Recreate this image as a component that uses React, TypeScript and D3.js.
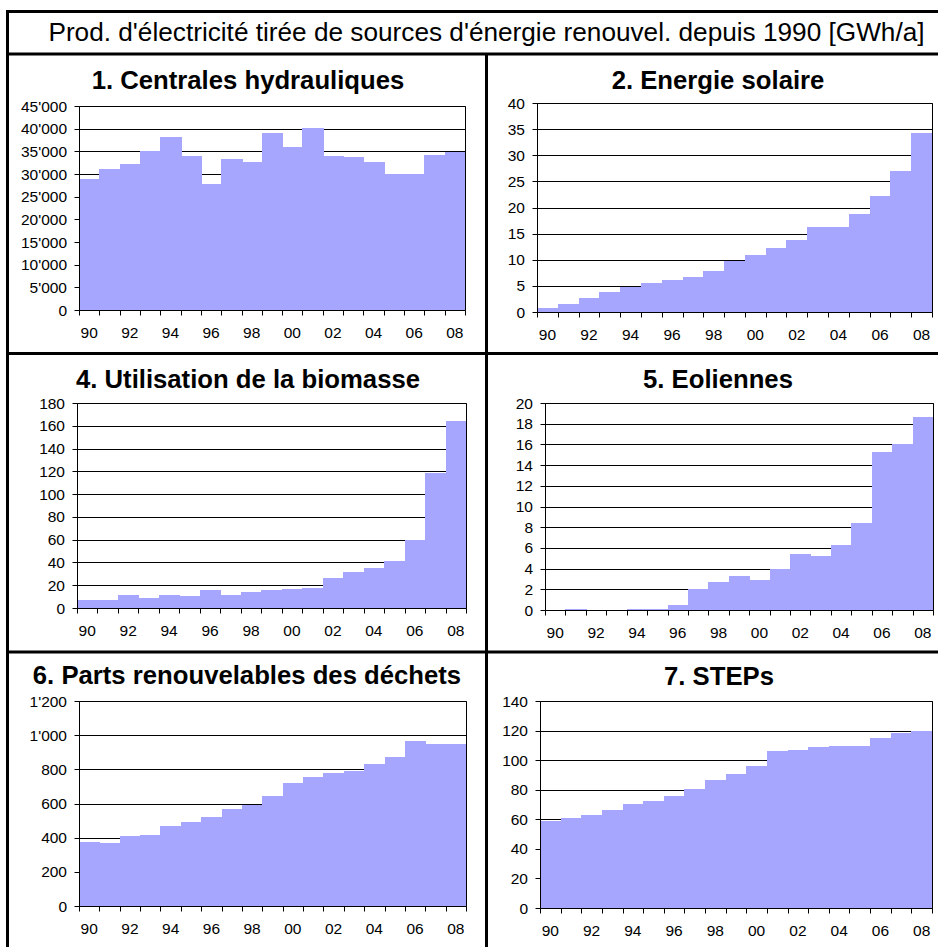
import React from 'react';
import * as d3 from 'd3';

// ---------- data ----------
const years = [1990, 1991, 1992, 1993, 1994, 1995, 1996, 1997, 1998, 1999, 2000, 2001, 2002, 2003, 2004, 2005, 2006, 2007, 2008];
const labeledYears = [1990, 1992, 1994, 1996, 1998, 2000, 2002, 2004, 2006, 2008];

const mainTitle = "Prod. d'électricité tirée de sources d'énergie renouvel. depuis 1990 [GWh/a]";

const hydroTitle = '1. Centrales hydrauliques';
const hydro = [28960, 31200, 32300, 35150, 38270, 34030, 27850, 33200, 32750, 39100, 35900, 40200, 34000, 33700, 32750, 30100, 29950, 34300, 34900];
const hydroTicks = [0, 5000, 10000, 15000, 20000, 25000, 30000, 35000, 40000, 45000];

const solarTitle = '2. Energie solaire';
const solar = [0.83, 1.6, 2.74, 3.9, 4.84, 5.6, 6.18, 6.75, 7.9, 9.68, 10.96, 12.3, 13.8, 16.3, 16.3, 18.8, 22.2, 26.9, 34.3];
const solarTicks = [0, 5, 10, 15, 20, 25, 30, 35, 40];

const biomassTitle = '4. Utilisation de la biomasse';
const biomass = [7.3, 7.4, 11.4, 8.8, 11.4, 10.5, 15.8, 11.4, 14.0, 15.8, 16.7, 17.8, 26.3, 31.6, 35.1, 41.5, 59.6, 118.3, 164.2];
const biomassTicks = [0, 20, 40, 60, 80, 100, 120, 140, 160, 180];

const windTitle = '5. Eoliennes';
const wind = [0, 0.1, 0, 0, 0.1, 0.1, 0.48, 2.0, 2.7, 3.3, 2.9, 3.97, 5.4, 5.2, 6.3, 8.4, 15.3, 16.07, 18.6];
const windTicks = [0, 2, 4, 6, 8, 10, 12, 14, 16, 18, 20];

const wasteTitle = '6. Parts renouvelables des déchets';
const waste = [375, 369, 410, 416, 468, 491, 520, 567, 592, 645, 720, 758, 780, 792, 829, 871, 967, 950, 950];
const wasteTicks = [0, 200, 400, 600, 800, 1000, 1200];

const stepsTitle = '7. STEPs';
const steps = [59.1, 60.9, 63.0, 66.4, 70.4, 72.5, 75.8, 80.4, 86.9, 90.9, 95.8, 106.2, 106.9, 108.7, 109.3, 109.3, 115.1, 118.2, 119.8];
const stepsTicks = [0, 20, 40, 60, 80, 100, 120, 140];

// ---------- style / layout ----------
const W = 938;
const H = 947;
const FONT = "'Liberation Sans', Arial, Helvetica, sans-serif";
const BAR = '#A6A6FF';
const LINE = '#000';

const locale = d3.formatLocale({ decimal: '.', thousands: "'", grouping: [3], currency: ['', ''] });
const fmt = locale.format(',');
const yearFmt = (y: number) => String(y % 100).padStart(2, '0');

type Spec = {
  title: string;
  values: number[];
  ticks: number[];
  box: { left: number; right: number; top: number; bottom: number };
  titleX: number;
  titleY: number;
};

const specs: Spec[] = [
  { title: hydroTitle, values: hydro, ticks: hydroTicks, box: { left: 79, right: 465, top: 106, bottom: 310 }, titleX: 248, titleY: 89 },
  { title: solarTitle, values: solar, ticks: solarTicks, box: { left: 537, right: 932, top: 103, bottom: 312 }, titleX: 718, titleY: 89 },
  { title: biomassTitle, values: biomass, ticks: biomassTicks, box: { left: 77, right: 466, top: 403, bottom: 608 }, titleX: 248, titleY: 388 },
  { title: windTitle, values: wind, ticks: windTicks, box: { left: 545, right: 933, top: 403, bottom: 610 }, titleX: 718, titleY: 388 },
  { title: wasteTitle, values: waste, ticks: wasteTicks, box: { left: 79, right: 466, top: 701, bottom: 906 }, titleX: 247, titleY: 684 },
  { title: stepsTitle, values: steps, ticks: stepsTicks, box: { left: 540, right: 932, top: 701, bottom: 908 }, titleX: 719, titleY: 685 },
];

const px = (v: number) => Math.round(v) + 0.5;

function Panel({ spec }: { spec: Spec }) {
  const { box, ticks, values } = spec;
  const x = d3
    .scaleBand<number>()
    .domain(years)
    .range([box.left, box.right])
    .paddingInner(0)
    .paddingOuter(0);
  const y = d3
    .scaleLinear()
    .domain([0, d3.max(ticks) as number])
    .range([box.bottom, box.top]);
  const bw = x.bandwidth();
  const x0 = px(box.left);
  const x1 = px(box.right);
  const yb = px(y(0));
  const yt = px(y(d3.max(ticks) as number));

  return (
    <g>
      <text
        x={spec.titleX}
        y={spec.titleY}
        textAnchor="middle"
        fontFamily={FONT}
        fontWeight="bold"
        fontSize={25.7}
        fill="#000"
      >
        {spec.title}
      </text>
      <rect x={box.left} y={box.top} width={box.right - box.left} height={box.bottom - box.top} fill="#fff" />
      {ticks.slice(1).map((t) => (
        <line key={'g' + t} x1={x0} x2={x1} y1={px(y(t))} y2={px(y(t))} stroke={LINE} strokeWidth={1} />
      ))}
      {values.map((v, i) => {
        const yr = years[i];
        const bx0 = Math.round(x(yr) as number);
        const bx1 = Math.round((x(yr) as number) + bw);
        const by = Math.round(y(v));
        const h = Math.round(y(0)) - by;
        if (h <= 0) return null;
        return <rect key={'b' + yr} x={bx0} y={by} width={bx1 - bx0 + 1} height={h + 1} fill={BAR} shapeRendering="crispEdges" />;
      })}
      <line x1={x1} x2={x1} y1={yt} y2={yb} stroke={LINE} strokeWidth={1} />
      <line x1={x0} x2={x1} y1={yt} y2={yt} stroke={LINE} strokeWidth={1} />
      <line x1={x0} x2={x0} y1={yt} y2={yb} stroke={LINE} strokeWidth={1} />
      {ticks.map((t) => (
        <g key={'yt' + t}>
          <line x1={x0 - 5} x2={x0} y1={px(y(t))} y2={px(y(t))} stroke={LINE} strokeWidth={1} />
          <text
            x={box.left - 12}
            y={y(t)}
            dy="0.36em"
            textAnchor="end"
            fontFamily={FONT}
            fontSize={15.5}
            fill="#000"
          >
            {fmt(t)}
          </text>
        </g>
      ))}
      <line x1={x0} x2={x1} y1={yb} y2={yb} stroke={LINE} strokeWidth={1} />
      {[...years, years[years.length - 1] + 1].map((yr, i) => {
        const xx = i < years.length ? (x(yr) as number) : box.right;
        return <line key={'xt' + yr} x1={px(xx)} x2={px(xx)} y1={yb} y2={yb + 5} stroke={LINE} strokeWidth={1} />;
      })}
      {labeledYears.map((yr) => (
        <text
          key={'xl' + yr}
          x={(x(yr) as number) + bw / 2}
          y={box.bottom + 28}
          textAnchor="middle"
          fontFamily={FONT}
          fontSize={15.5}
          fill="#000"
        >
          {yearFmt(yr)}
        </text>
      ))}
    </g>
  );
}

export default function App() {
  const colX = 486.5;
  return (
    <svg
      width={W}
      height={H}
      viewBox={`0 0 ${W} ${H}`}
      style={{ position: 'absolute', left: 0, top: 0, display: 'block', background: '#fff' }}
    >
      <rect x={0} y={0} width={W} height={H} fill="#fff" />
      <line x1={7.5} x2={7.5} y1={10} y2={H + 5} stroke="#000" strokeWidth={3} />
      <line x1={6} x2={W + 5} y1={11.5} y2={11.5} stroke="#000" strokeWidth={3} />
      <line x1={6} x2={W + 5} y1={54} y2={54} stroke="#000" strokeWidth={3} />
      <line x1={6} x2={W + 5} y1={353.5} y2={353.5} stroke="#000" strokeWidth={3} />
      <line x1={6} x2={W + 5} y1={652} y2={652} stroke="#000" strokeWidth={3} />
      <line x1={colX} x2={colX} y1={54} y2={H + 5} stroke="#000" strokeWidth={3} />
      <text
        x={486.5}
        y={41}
        textAnchor="middle"
        fontFamily={FONT}
        fontSize={26.2}
        fill="#000"
      >
        {mainTitle}
      </text>
      {specs.map((s) => (
        <Panel key={s.title} spec={s} />
      ))}
    </svg>
  );
}
